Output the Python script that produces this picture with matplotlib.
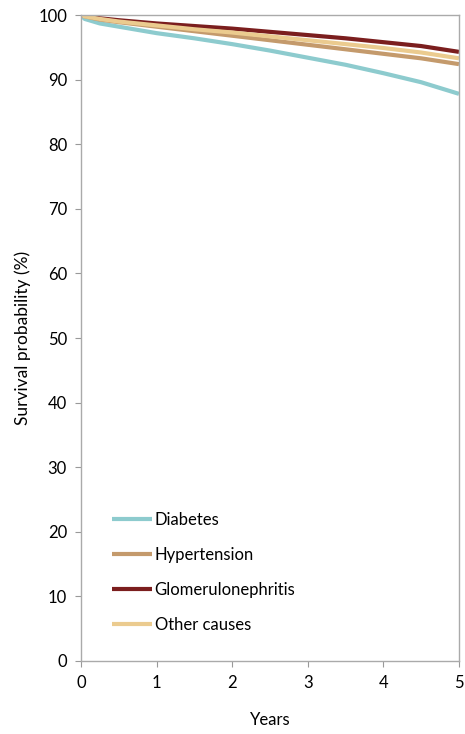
import matplotlib.pyplot as plt

# Survival by primary renal disease
years = [0, 0.05, 0.25, 0.5, 1, 1.5, 2, 2.5, 3, 3.5, 4, 4.5, 5]
diabetes = [100, 99.4, 98.7, 98.2, 97.2, 96.4, 95.5, 94.5, 93.4, 92.3, 91.0, 89.6, 87.8]
hypertension = [100, 99.8, 99.3, 98.9, 98.2, 97.5, 96.8, 96.1, 95.4, 94.7, 94.0, 93.3, 92.4]
glomerulo = [100, 99.9, 99.5, 99.2, 98.7, 98.3, 97.9, 97.4, 96.9, 96.4, 95.8, 95.2, 94.3]
other = [100, 99.8, 99.4, 99.0, 98.4, 97.8, 97.3, 96.7, 96.1, 95.5, 94.9, 94.2, 93.3]

labels = ["Diabetes", "Hypertension", "Glomerulonephritis", "Other causes"]
colors = ["#8DCBCE", "#C49A6C", "#7B1E1E", "#EBCB8F"]

plt.rcParams['font.family'] = ['Lato', 'DejaVu Sans']

fig = plt.figure(figsize=(4.65, 7.34), dpi=100)
ax = fig.add_axes([0.174, 0.0995, 0.813, 0.88])

for ys, lab, col in zip([diabetes, hypertension, glomerulo, other], labels, colors):
    ax.plot(years, ys, color=col, lw=3, label=lab, solid_capstyle='butt')

ax.set_xlim(0, 5)
ax.set_ylim(0, 100)
ax.set_xticks(range(0, 6))
ax.set_yticks(range(0, 101, 10))
ax.tick_params(colors="#999999", labelcolor="black", labelsize=12, length=4, pad=6)
for s in ax.spines.values():
    s.set_color("#AAAAAA")
    s.set_linewidth(1)

ax.set_xlabel("Years", fontsize=12, labelpad=15)
ax.set_ylabel("Survival probability (%)", fontsize=12.5, labelpad=5)

ax.legend(loc="lower left", bbox_to_anchor=(0.043, 0.02), frameon=False, fontsize=12,
          handlelength=2.4, handletextpad=0.15, labelspacing=1.15)

fig.savefig("out.png", dpi=100)
